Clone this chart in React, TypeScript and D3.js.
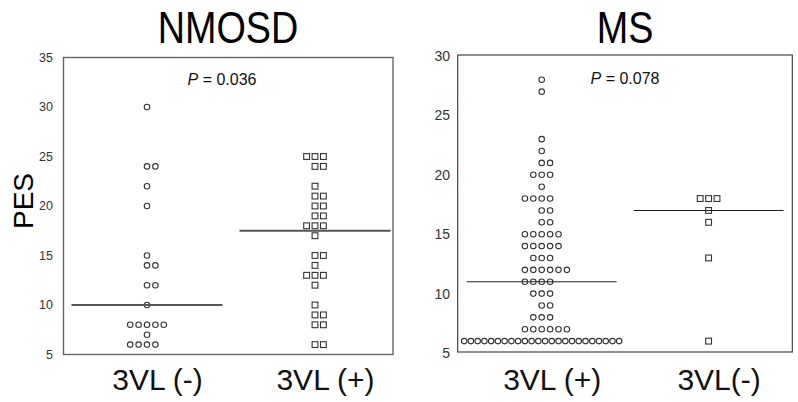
import React from "react";
import * as d3 from "d3";

// ---------- data ----------
const nmosdGroups = ["3VL (-)", "3VL (+)"];
const msGroups = ["3VL (+)", "3VL(-)"];

const nmosdNeg = [30, 24, 24, 22, 20, 15, 14, 14, 12, 12, 10, 8, 8, 8, 8, 8, 7, 6, 6, 6, 6];
const nmosdPos = [
  25, 25, 25, 24, 24, 22, 21, 21, 20, 20, 19, 19, 18, 18, 18, 17, 15, 15, 14, 13, 13, 13, 12, 10, 9, 9, 8, 8, 6, 6,
];
const msPos = [
  28, 27, 23, 22, 21, 21, 20, 20, 20, 19, 18, 18, 18, 18, 17, 17, 16, 16,
  15, 15, 15, 15, 15, 14, 14, 14, 14, 14, 13, 13, 13, 12, 12, 12, 12, 12, 12,
  11, 11, 11, 11, 10, 10, 10, 9, 9, 8, 8, 8, 7, 7, 7, 7, 7, 7,
  6, 6, 6, 6, 6, 6, 6, 6, 6, 6, 6, 6, 6, 6, 6, 6, 6, 6, 6, 6, 6, 6, 6, 6,
];
const msNeg = [18, 18, 18, 17, 16, 13, 6];

const nmosdTicks = [5, 10, 15, 20, 25, 30, 35];
const msTicks = [5, 10, 15, 20, 25, 30];
const panelTitles = ["NMOSD", "MS"];
const pLabels = ["0.036", "0.078"];
const yLabel = "PES";

// ---------- layout helpers ----------
function slotOrder(k: number): number {
  if (k === 0) return 0;
  const m = Math.ceil(k / 2);
  const sign = k % 4 === 1 || k % 4 === 0 ? 1 : -1;
  return sign * m;
}

function dotOffsets(values: number[], spacing: number, maxSpan: number) {
  const counts = d3.rollup(values, (v) => v.length, (d) => d);
  const seen = new Map<number, number>();
  return values.map((v) => {
    const n = counts.get(v) as number;
    const i = seen.get(v) ?? 0;
    seen.set(v, i + 1);
    if ((n - 1) * spacing > maxSpan) {
      const s = maxSpan / (n - 1);
      return (i - (n - 1) / 2) * s;
    }
    return slotOrder(i) * spacing;
  });
}

type Panel = {
  title: string;
  groups: string[];
  series: number[][];
  shapes: ("circle" | "square")[];
  ticks: number[];
  frame: { x0: number; x1: number; y0: number; y1: number };
  yRange: [number, number];
  centers: [number, number];
  tickX: number;
  tickFont: number;
  frameStroke: string;
  frameWidth: number;
  medianStroke: string;
  medianWidth: number;
  medianHalf: number;
  pText: string;
  pX: number;
  pY: number;
  titleX: number;
};

const panels: Panel[] = [
  {
    title: panelTitles[0],
    groups: nmosdGroups,
    series: [nmosdNeg, nmosdPos],
    shapes: ["circle", "square"],
    ticks: nmosdTicks,
    frame: { x0: 63.5, x1: 393, y0: 57.5, y1: 354.5 },
    yRange: [354.5, 57.5],
    centers: [147, 315],
    tickX: 53,
    tickFont: 12.5,
    frameStroke: "#666",
    frameWidth: 1.4,
    medianStroke: "#555",
    medianWidth: 1.8,
    medianHalf: 75.5,
    pText: pLabels[0],
    pX: 222,
    pY: 85,
    titleX: 228,
  },
  {
    title: panelTitles[1],
    groups: msGroups,
    series: [msPos, msNeg],
    shapes: ["circle", "square"],
    ticks: msTicks,
    frame: { x0: 457.7, x1: 792.3, y0: 55, y1: 352 },
    yRange: [353, 56],
    centers: [541.7, 708.6],
    tickX: 450,
    tickFont: 14,
    frameStroke: "#333",
    frameWidth: 1.1,
    medianStroke: "#222",
    medianWidth: 1.1,
    medianHalf: 75,
    pText: pLabels[1],
    pX: 625,
    pY: 84,
    titleX: 625,
  },
];

const FONT = "'Liberation Sans', Arial, Helvetica, sans-serif";

function PanelView({ p }: { p: Panel }) {
  const y = d3.scaleLinear().domain(d3.extent(p.ticks) as [number, number]).range(p.yRange);
  const x = d3.scalePoint<string>().domain(p.groups).range(p.centers);
  const spacing = 8.4;
  const r = 2.75;
  const side = 5.8;
  return (
    <g>
      <text
        transform={`translate(${p.titleX},43) scale(0.84,1)`}
        textAnchor="middle"
        fontFamily={FONT}
        fontSize={45}
        fill="#000"
      >
        {p.title}
      </text>
      <rect
        x={p.frame.x0}
        y={p.frame.y0}
        width={p.frame.x1 - p.frame.x0}
        height={p.frame.y1 - p.frame.y0}
        fill="none"
        stroke={p.frameStroke}
        strokeWidth={p.frameWidth}
      />
      {p.ticks.map((t) => (
        <text
          key={t}
          x={p.tickX}
          y={y(t)}
          dy="0.35em"
          textAnchor="end"
          fontFamily={FONT}
          fontSize={p.tickFont}
          fill="#333"
        >
          {t}
        </text>
      ))}
      <text x={p.pX} y={p.pY} textAnchor="middle" fontFamily={FONT} fontSize={16} fill="#111">
        <tspan fontStyle="italic">P</tspan>
        {` = ${p.pText}`}
      </text>
      {p.series.map((vals, gi) => {
        const cx = x(p.groups[gi]) as number;
        const offs = dotOffsets(vals, spacing, 155);
        const med = d3.median(vals) as number;
        return (
          <g key={gi}>
            {vals.map((v, i) =>
              p.shapes[gi] === "circle" ? (
                <circle
                  key={i}
                  cx={cx + offs[i]}
                  cy={y(v)}
                  r={r}
                  fill="#fff"
                  stroke="#333"
                  strokeWidth={1.1}
                />
              ) : (
                <rect
                  key={i}
                  x={cx + offs[i] - side / 2}
                  y={y(v) - side / 2}
                  width={side}
                  height={side}
                  fill="#fff"
                  stroke="#333"
                  strokeWidth={1.1}
                />
              )
            )}
            <line
              x1={cx - p.medianHalf}
              x2={cx + p.medianHalf}
              y1={y(med)}
              y2={y(med)}
              stroke={p.medianStroke}
              strokeWidth={p.medianWidth}
            />
            <text
              x={cx + 10.5}
              y={390}
              textAnchor="middle"
              fontFamily={FONT}
              fontSize={30}
              fill="#111"
            >
              {p.groups[gi]}
            </text>
          </g>
        );
      })}
    </g>
  );
}

export default function App() {
  return (
    <svg
      width={798}
      height={402}
      style={{ position: "absolute", left: 0, top: 0, background: "#fff" }}
    >
      <rect width={798} height={402} fill="#fff" />
      <text
        transform="translate(33,201) rotate(-90)"
        textAnchor="middle"
        fontFamily={FONT}
        fontSize={28}
        fill="#000"
      >
        {yLabel}
      </text>
      {panels.map((p, i) => (
        <PanelView key={i} p={p} />
      ))}
    </svg>
  );
}
